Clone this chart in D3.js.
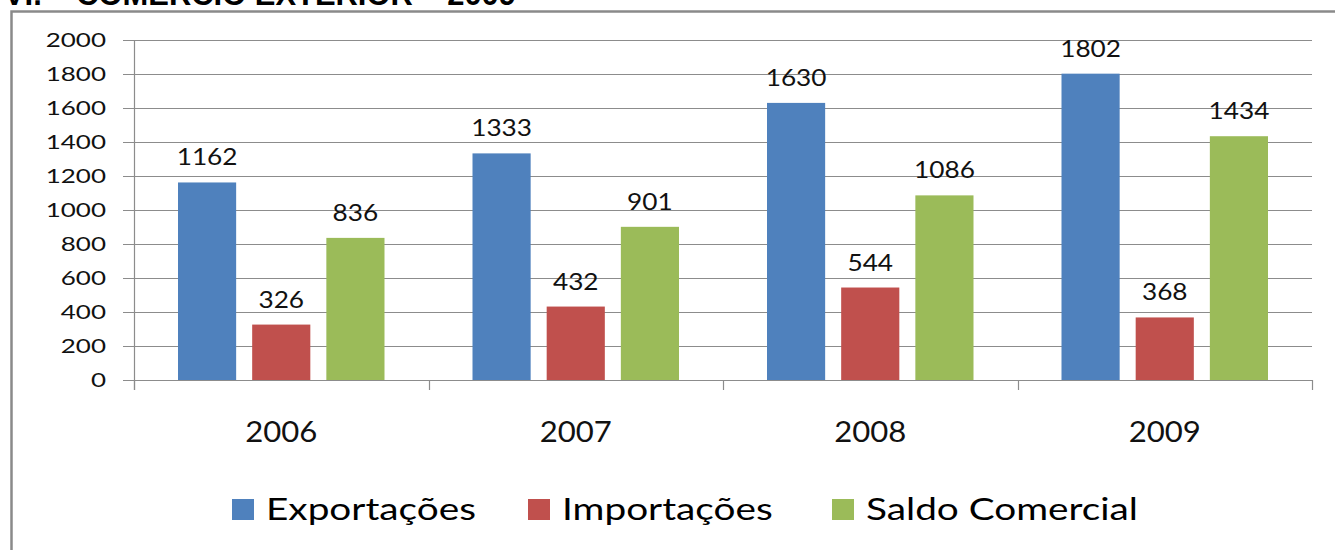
<!DOCTYPE html>
<html><head><meta charset="utf-8">
<script src="https://cdn.jsdelivr.net/npm/d3@7"></script>
<style>html,body{margin:0;padding:0;background:#fff;overflow:hidden}</style>
</head><body>
<svg id="c" width="1335" height="550"></svg>
<script>
const years = ["2006","2007","2008","2009"];
const seriesNames = ["Exportações","Importações","Saldo Comercial"];
const exportacoes = [1162,1333,1630,1802];
const importacoes = [326,432,544,368];
const saldo = [836,901,1086,1434];
const yTicks = [0,200,400,600,800,1000,1200,1400,1600,1800,2000];
const colors = ["#4F81BD","#C0504D","#9BBB59"];
const titleText = "VI.  –  COMÉRCIO EXTERIOR  –  2009";

(function(){
const seriesValues = [exportacoes, importacoes, saldo];
const svg = d3.select("#c");
const FONT = "Lato, 'Open Sans', sans-serif";

function stext(g, x, y, txt, size, sx, anchor, color){
  return g.append("text")
    .attr("transform", `translate(${x},${y}) scale(${sx},1)`)
    .attr("text-anchor", anchor)
    .attr("font-family", FONT)
    .attr("font-size", size)
    .attr("fill", color || "#000")
    .text(txt);
}

// title (clipped at top)
svg.append("text").attr("x",4).attr("y",5)
  .attr("font-family","'Liberation Sans', Arial, sans-serif")
  .attr("font-weight","bold").attr("font-size",31)
  .attr("textLength",512).attr("lengthAdjust","spacingAndGlyphs")
  .text(titleText);

// frame
svg.append("rect").attr("x",11.5).attr("y",11.5).attr("width",1400).attr("height",600)
  .attr("fill","#fff").attr("stroke","#8a8a8a").attr("stroke-width",2.5);

const pLeft = 134, pRight = 1312, pTop = 40, pBottom = 380;
const x = d3.scaleBand().domain(years).range([pLeft,pRight]).paddingInner(0).paddingOuter(0);
const xs = d3.scaleBand().domain(d3.range(3)).range([44, x.bandwidth()-44]).paddingInner(0.216).paddingOuter(0);
const y = d3.scaleLinear().domain([0,2000]).range([pBottom, pTop]);

const gridColor = "#8c8c8c";
svg.append("g").selectAll("line").data(yTicks).join("line")
  .attr("x1", pLeft-11).attr("x2", pRight)
  .attr("y1", d=>Math.round(y(d))+0.5).attr("y2", d=>Math.round(y(d))+0.5)
  .attr("stroke", gridColor).attr("stroke-width",1.2);

svg.append("line").attr("x1",pLeft+0.5).attr("x2",pLeft+0.5).attr("y1",pTop).attr("y2",pBottom+10)
  .attr("stroke",gridColor).attr("stroke-width",1.2);
const bounds = years.map(d=>x(d)).concat([pRight]);
svg.append("g").selectAll("line").data(bounds).join("line")
  .attr("x1", d=>Math.round(d)+0.5).attr("x2", d=>Math.round(d)+0.5)
  .attr("y1", pBottom).attr("y2", pBottom+10)
  .attr("stroke", gridColor).attr("stroke-width",1.2);

const gy = svg.append("g");
yTicks.forEach(t=>{ stext(gy, 106, y(t)+7, String(t), 20, 1.3, "end", "#111"); });

const gb = svg.append("g");
years.forEach((yr,i)=>{
  seriesValues.forEach((vals,s)=>{
    const bx = x(yr)+xs(s), bw = xs.bandwidth();
    gb.append("rect").attr("x",bx).attr("y",y(vals[i])).attr("width",bw)
      .attr("height", y(0)-y(vals[i])).attr("fill",colors[s]);
    stext(gb, bx+bw/2, y(vals[i])-17, String(vals[i]), 23, 1.14, "middle", "#111");
  });
  stext(gb, x(yr)+x.bandwidth()/2, 442, yr, 28, 1.11, "middle", "#111");
});

const legendX = [232, 528, 832];
const gl = svg.append("g");
seriesNames.forEach((n,s)=>{
  gl.append("rect").attr("x",legendX[s]).attr("y",499).attr("width",22).attr("height",21).attr("fill",colors[s]);
  stext(gl, legendX[s]+34, 520, n, 31, 1.25, "start", "#000");
});
})();
</script>
</body></html>
